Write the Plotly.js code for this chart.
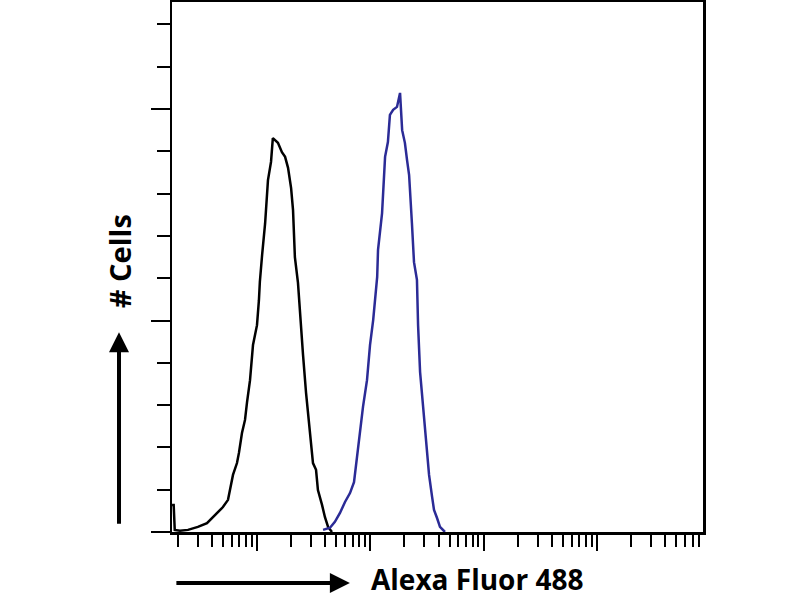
<!DOCTYPE html>
<html>
<head>
<meta charset="utf-8">
<script src="https://cdn.plot.ly/plotly-3.0.1.min.js"></script>
<style>html,body{margin:0;padding:0;background:#fff;}#chart{width:800px;height:600px;}</style>
</head>
<body>
<div id="chart"></div>
<script>
// Isotype / control histogram (black)
const controlX = [1.78, 1.84, 1.88, 2.09, 2.46, 3.01, 3.62, 4.01, 4.44, 5.01, 5.55, 5.78, 6.14, 6.66, 6.93, 7.37, 7.84, 8.17, 8.68, 9.22, 10.0, 10.4, 10.6, 11.1, 11.8, 12.5, 13.3, 13.8, 14.4, 15.3, 16.6, 17.7, 18.8, 20.0, 20.8, 21.6, 23.0, 24.0, 25.5, 27.1, 28.8, 31.2, 33.2, 34.5, 37.5, 39.8, 42.4, 45.9];
const controlY = [6.4, 6.4, 0.5, 0.3, 0.5, 1.2, 2.1, 3.3, 4.7, 5.9, 7.6, 9.9, 13.5, 16.3, 18.7, 23.4, 26.5, 30.7, 35.9, 44.2, 48.9, 54.8, 59.1, 65.5, 73.0, 83.2, 87.5, 93.1, 92.7, 92.0, 89.8, 88.7, 86.1, 81.3, 76.1, 65.0, 58.9, 50.8, 41.8, 32.9, 25.8, 16.3, 14.7, 9.9, 6.4, 3.5, 1.2, 0];
// Antibody-stained histogram (blue)
const stainedX = [38.3, 44.1, 48.7, 54.0, 59.8, 66.2, 71.8, 76.3, 81.1, 86.2, 93.5, 99.4, 106, 110, 115, 117, 127, 135, 143, 149, 159, 172, 183, 191, 202, 211, 220, 233, 243, 258, 264, 275, 292, 310, 330, 351, 365, 388, 412, 456];
const stainedY = [0.5, 1.0, 2.4, 4.5, 7.1, 9.2, 11.8, 17.7, 23.4, 29.6, 35.9, 44.2, 50.1, 54.8, 60.3, 66.7, 75.4, 88.7, 92.2, 98.6, 99.8, 100.5, 103.8, 95.0, 92.0, 87.9, 84.4, 73.0, 63.8, 59.6, 48.9, 37.8, 29.6, 21.0, 13.5, 8.3, 5.2, 3.3, 1.2, 0];

const yTitle = '# Cells';
const xTitle = 'Alexa Fluor 488';

const traces = [
  {x: controlX, y: controlY, type: 'scatter', mode: 'lines', line: {color: '#000000', width: 2.5}, hoverinfo: 'skip'},
  {x: stainedX, y: stainedY, type: 'scatter', mode: 'lines', line: {color: '#2b2b96', width: 2.5}, hoverinfo: 'skip'}
];

const font = 'Open Sans, Liberation Sans, sans-serif';

const layout = {
  width: 800, height: 600,
  margin: {l: 172, r: 97, t: 2, b: 68},
  paper_bgcolor: '#ffffff', plot_bgcolor: '#ffffff',
  showlegend: false,
  xaxis: {
    type: 'log', range: [0.25, 4.936],
    showgrid: false, zeroline: false,
    showline: true, mirror: true, linecolor: '#000', linewidth: 2.5,
    tickmode: 'linear', tick0: 0, dtick: 1,
    ticks: 'outside', ticklen: 16, tickwidth: 2, tickcolor: '#000',
    showticklabels: false,
    minor: {dtick: 'D1', ticks: 'outside', ticklen: 12, tickwidth: 2, tickcolor: '#000', showgrid: false}
  },
  yaxis: {
    range: [0, 125.3],
    showgrid: false, zeroline: false,
    showline: true, mirror: true, linecolor: '#000', linewidth: 2.5,
    tickmode: 'linear', tick0: 0, dtick: 50,
    ticks: 'outside', ticklen: 19, tickwidth: 2, tickcolor: '#000',
    showticklabels: false,
    minor: {tick0: 0, dtick: 10, ticks: 'outside', ticklen: 13, tickwidth: 2, tickcolor: '#000', showgrid: false}
  },
  annotations: [
    {xref: 'paper', yref: 'paper', x: -0.0998, y: 0.511, text: '<b>' + yTitle + '</b>', showarrow: false, textangle: -90,
     font: {family: font, size: 29, color: '#000'}, xanchor: 'center', yanchor: 'middle'},
    {xref: 'paper', yref: 'paper', x: -0.0998, y: 0.377, ax: 0, ay: 193, axref: 'pixel', ayref: 'pixel', text: '',
     showarrow: true, arrowhead: 2, arrowsize: 1, arrowwidth: 4, arrowcolor: '#000', standoff: 0, startstandoff: 0},
    {xref: 'paper', yref: 'paper', x: 0.574, y: -0.0887, text: '<b>' + xTitle + '</b>', showarrow: false,
     font: {family: font, size: 28, color: '#000'}, xanchor: 'center', yanchor: 'middle', borderpad: 0},
    {xref: 'paper', yref: 'paper', x: 0.335, y: -0.096, ax: -175, ay: 0, axref: 'pixel', ayref: 'pixel', text: '',
     showarrow: true, arrowhead: 2, arrowsize: 1, arrowwidth: 4, arrowcolor: '#000', standoff: 0, startstandoff: 0}
  ]
};

Plotly.newPlot('chart', traces, layout, {staticPlot: true, displayModeBar: false});
</script>
</body>
</html>
